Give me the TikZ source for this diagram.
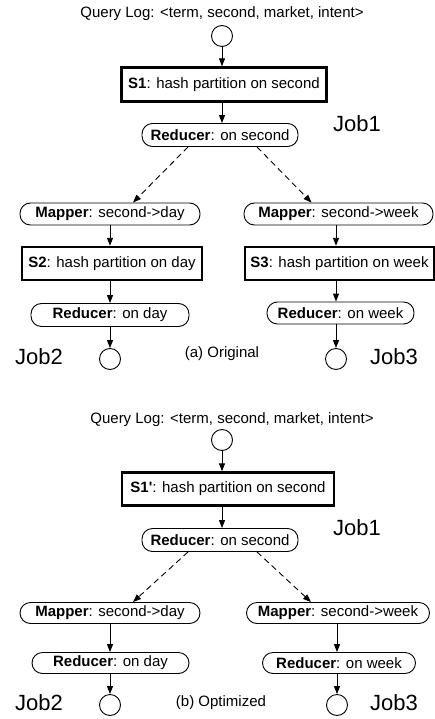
\documentclass[tikz,border=0pt]{standalone}
\usepackage{fontspec}
\setmainfont{Liberation Sans}
\usetikzlibrary{arrows.meta,calc}
\tikzset{
  base/.style={font=\fontsize{15}{17}\selectfont, inner sep=0pt, align=center},
  box/.style={base, draw, line width=2.4pt, rectangle},
  pill/.style={base, draw, line width=0.9pt, rectangle, rounded corners=10.5pt},
  ring/.style={draw, line width=0.9pt, circle, minimum size=21pt, inner sep=0pt},
  lbl/.style={base},
  joblbl/.style={font=\fontsize{22}{24}\selectfont, inner sep=0pt},
  arr/.style={line width=0.9pt, -{Triangle[length=8pt,width=6pt]}},
  darr/.style={arr, dash pattern=on 6pt off 4pt},
}
\begin{document}
\begin{tikzpicture}[x=1pt,y=-1pt]
\useasboundingbox (0,0) rectangle (435,719);
% ---------------- (a) Original ----------------
\node[lbl] (qa) at (222,14) {Query Log: <term, second, market, intent>};
\node[ring] (ca) at (222,36) {};
\node[box, minimum width=205pt, minimum height=34pt] (s1) at (224,84.5) {\textbf{S1}: hash partition on second};
\node[pill, minimum width=156pt, minimum height=23pt] (r1) at (220,135) {\textbf{Reducer}: on second};
\node[joblbl] (j1a) at (357,124) {Job1};
\node[pill, minimum width=180pt, minimum height=22pt] (m1) at (110,214) {\textbf{Mapper}: second->day};
\node[pill, minimum width=189pt, minimum height=22pt] (m2) at (338.5,214) {\textbf{Mapper}: second->week};
\node[box, minimum width=180pt, minimum height=33pt] (s2) at (112,263.5) {\textbf{S2}: hash partition on day};
\node[box, minimum width=189pt, minimum height=33pt] (s3) at (339.5,263.5) {\textbf{S3}: hash partition on week};
\node[pill, minimum width=158pt, minimum height=23pt] (r2) at (110,315) {\textbf{Reducer}: on day};
\node[pill, minimum width=147pt, minimum height=22pt] (r3) at (340.5,313) {\textbf{Reducer}: on week};
\node[ring] (c1) at (110,359) {};
\node[ring] (c2) at (336,359) {};
\node[joblbl] (j2a) at (39,357) {Job2};
\node[joblbl] (j3a) at (394,357) {Job3};
\node[lbl] (capa) at (222,354) {(a) Original};
\draw[arr] (ca) -- (ca |- s1.north);
\draw[arr] (s1.south -| ca) -- (r1.north -| ca);
\draw[darr] ($(r1.south)+(-32,0)$) -- ($(m1.north)+(23,0)$);
\draw[darr] ($(r1.south)+(37,0)$) -- ($(m2.north)+(-27,0)$);
\draw[arr] (m1.south -| c1) -- (s2.north -| c1);
\draw[arr] (s2.south -| c1) -- (r2.north -| c1);
\draw[arr] (r2.south -| c1) -- (c1);
\draw[arr] (m2.south -| c2) -- (s3.north -| c2);
\draw[arr] (s3.south -| c2) -- (r3.north -| c2);
\draw[arr] (r3.south -| c2) -- (c2);
% ---------------- (b) Optimized ----------------
\node[lbl] (qb) at (232,420) {Query Log: <term, second, market, intent>};
\node[ring] (cb) at (222,440) {};
\node[box, minimum width=212pt, minimum height=33pt] (s1b) at (228,489) {\textbf{S1\textquotesingle}: hash partition on second};
\node[pill, minimum width=156pt, minimum height=23pt] (r1b) at (220,540) {\textbf{Reducer}: on second};
\node[joblbl] (j1b) at (357,528) {Job1};
\node[pill, minimum width=180pt, minimum height=21pt] (m1b) at (110,613) {\textbf{Mapper}: second->day};
\node[pill, minimum width=183pt, minimum height=21pt] (m2b) at (338,613) {\textbf{Mapper}: second->week};
\node[pill, minimum width=157pt, minimum height=21pt] (r2b) at (110.5,663) {\textbf{Reducer}: on day};
\node[pill, minimum width=153pt, minimum height=21pt] (r3b) at (339,663) {\textbf{Reducer}: on week};
\node[ring] (c1b) at (110,705) {};
\node[ring] (c2b) at (337,705) {};
\node[joblbl] (j2b) at (39,703) {Job2};
\node[joblbl] (j3b) at (394,703) {Job3};
\node[lbl] (capb) at (221,703) {(b) Optimized};
\draw[arr] (cb) -- (cb |- s1b.north);
\draw[arr] (s1b.south -| cb) -- (r1b.north -| cb);
\draw[darr] ($(r1b.south)+(-32,0)$) -- ($(m1b.north)+(23,0)$);
\draw[darr] ($(r1b.south)+(37,0)$) -- ($(m2b.north)+(-27,0)$);
\draw[arr] (m1b.south -| c1b) -- (r2b.north -| c1b);
\draw[arr] (r2b.south -| c1b) -- (c1b);
\draw[arr] (m2b.south -| c2b) -- (r3b.north -| c2b);
\draw[arr] (r3b.south -| c2b) -- (c2b);
\end{tikzpicture}
\end{document}
